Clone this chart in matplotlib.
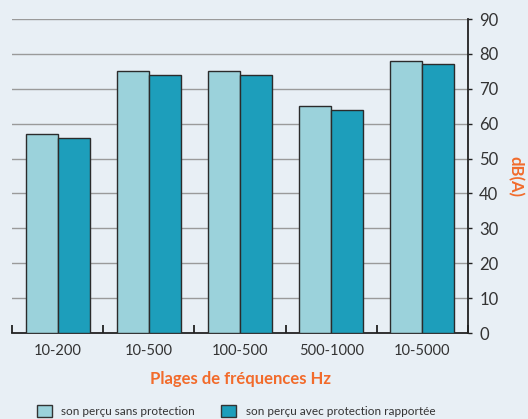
import matplotlib
matplotlib.use("Agg")
import matplotlib.pyplot as plt
import numpy as np

categories = ["10-200", "10-500", "100-500", "500-1000", "10-5000"]
sans_protection = [57, 75, 75, 65, 78]
avec_protection = [56, 74, 74, 64, 77]
yticks = [0, 10, 20, 30, 40, 50, 60, 70, 80, 90]
series_labels = ["son perçu sans protection", "son perçu avec protection rapportée"]

bg = "#e8eff5"
light = "#9bd2db"
dark = "#1d9ebb"
orange = "#f26b2b"
textc = "#333333"

plt.rcParams['font.family'] = ['Lato', 'DejaVu Sans']

fig = plt.figure(figsize=(5.28, 4.19), dpi=100, facecolor=bg)
ax = fig.add_axes([12/528, 1-333/419, (468-12)/528, (333-19)/419])
ax.set_facecolor(bg)

x = np.arange(len(categories))
w = 0.35
ax.bar(x - w/2, sans_protection, w, color=light, edgecolor="#2b2b2b", linewidth=1.0, zorder=3, label=series_labels[0])
ax.bar(x + w/2, avec_protection, w, color=dark, edgecolor="#2b2b2b", linewidth=1.0, zorder=3, label=series_labels[1])

ax.set_xlim(-0.5, len(categories) - 0.5)
ax.set_ylim(0, 90)

for y in yticks[1:]:
    ax.axhline(y, color="#9a9a9a", linewidth=1.0, zorder=1)

ax.spines['top'].set_visible(False)
ax.spines['left'].set_visible(False)
ax.spines['right'].set_color("#222222")
ax.spines['right'].set_linewidth(1.3)
ax.spines['bottom'].set_color("#222222")
ax.spines['bottom'].set_linewidth(1.3)

ax.yaxis.tick_right()
ax.set_yticks(yticks)
ax.tick_params(axis='y', direction='out', length=3, width=1, colors="#222222", labelsize=12, labelcolor=textc, pad=5)

ax.set_xticks(np.arange(-0.5, len(categories), 1.0))
ax.set_xticklabels([])
ax.set_xticks(x, minor=True)
ax.set_xticklabels(categories, minor=True)
ax.tick_params(axis='x', which='major', direction='in', length=6, width=1.3, colors="#222222")
ax.tick_params(axis='x', which='minor', length=0, labelsize=10.5, labelcolor=textc, pad=8)

ax.yaxis.set_label_position("right")
ax.set_ylabel("dB(A)", color=orange, fontsize=12, fontweight='bold', rotation=-90, labelpad=18)
ax.set_xlabel("Plages de fréquences Hz", color=orange, fontsize=12, fontweight='bold', labelpad=9)

leg = fig.legend(loc='center left', bbox_to_anchor=(26/528, 1-411/419), ncol=2, frameon=False,
                 fontsize=8.5, handlelength=1.3, handleheight=1.3, columnspacing=2.2, handletextpad=0.8,
                 labelcolor=textc)
for h in leg.legend_handles:
    h.set_edgecolor("#333333")
    h.set_linewidth(1.0)

fig.savefig("out.png", dpi=100, facecolor=bg)
